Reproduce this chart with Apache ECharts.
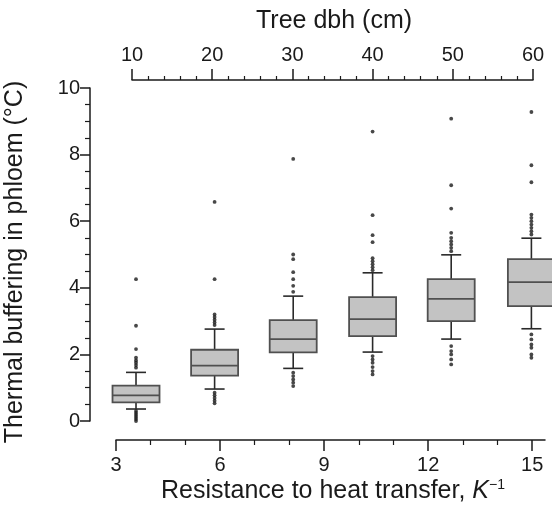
<!DOCTYPE html>
<html>
<head>
<meta charset="utf-8">
<script src="https://cdn.jsdelivr.net/npm/echarts@6/dist/echarts.min.js"></script>
<style>html,body{margin:0;padding:0;background:#fff}#c{width:552px;height:508px}</style>
</head>
<body>
<div id="c"></div>
<script>
// Box positions (tree dbh, cm)
const dbh = [10.5, 20.3, 30.1, 40, 49.8, 59.8];
// Box statistics (thermal buffering, °C)
const whiskerLow = [0.36, 0.96, 1.58, 2.07, 2.46, 2.77];
const q1 = [0.56, 1.36, 2.06, 2.55, 3.0, 3.45];
const median = [0.77, 1.66, 2.46, 3.06, 3.67, 4.17];
const q3 = [1.06, 2.14, 3.03, 3.72, 4.26, 4.86];
const whiskerHigh = [1.46, 2.76, 3.75, 4.45, 4.99, 5.49];
// Outliers per box
const outliers1 = [4.26, 2.86, 2.16, 1.9, 1.82, 1.75, 1.68, 1.6, 0.3, 0.24, 0.18, 0.12, 0.06, 0.0];
const outliers2 = [6.58, 4.26, 3.2, 3.12, 3.04, 2.96, 2.88, 0.85, 0.77, 0.69, 0.61, 0.53];
const outliers3 = [7.87, 5.0, 4.86, 4.47, 4.26, 4.06, 3.88, 1.45, 1.35, 1.25, 1.15, 1.05];
const outliers4 = [8.69, 6.18, 5.58, 5.37, 4.89, 4.8, 4.71, 4.62, 4.53, 1.95, 1.85, 1.75, 1.62, 1.5, 1.4];
const outliers5 = [9.08, 7.08, 6.38, 5.65, 5.5, 5.4, 5.3, 5.2, 5.1, 2.25, 2.1, 2.0, 1.85, 1.7];
const outliers6 = [9.28, 7.68, 7.17, 6.2, 6.1, 6.0, 5.9, 5.8, 5.7, 5.6, 2.6, 2.45, 2.3, 2.2, 2.0, 1.9];
// Tick values
const kMajorTicks = [3, 6, 9, 12, 15];
const kMinorTicks = [4, 5, 7, 8, 10, 11, 13, 14];

const allOutliers = [outliers1, outliers2, outliers3, outliers4, outliers5, outliers6];
const boxData = dbh.map((x, i) => [x, whiskerLow[i], q1[i], median[i], q3[i], whiskerHigh[i]]);
const outlierData = [];
allOutliers.forEach((arr, i) => arr.forEach(v => outlierData.push([dbh[i], v])));

const FONT = '"Liberation Sans", Arial, Helvetica, sans-serif';
const INK = '#1a1a1a';
const BOXW = 47, CAPW = 20;

function renderBox(params, api) {
  const x = api.value(0);
  const pLo = api.coord([x, api.value(1)]);
  const pQ1 = api.coord([x, api.value(2)]);
  const pMed = api.coord([x, api.value(3)]);
  const pQ3 = api.coord([x, api.value(4)]);
  const pHi = api.coord([x, api.value(5)]);
  const cx = pMed[0];
  const lineStyle = { stroke: '#2a2a2a', lineWidth: 1.6, fill: null };
  return {
    type: 'group',
    children: [
      { type: 'line', shape: { x1: cx, y1: pHi[1], x2: cx, y2: pQ3[1] }, style: lineStyle },
      { type: 'line', shape: { x1: cx, y1: pQ1[1], x2: cx, y2: pLo[1] }, style: lineStyle },
      { type: 'line', shape: { x1: cx - CAPW / 2, y1: pHi[1], x2: cx + CAPW / 2, y2: pHi[1] }, style: lineStyle },
      { type: 'line', shape: { x1: cx - CAPW / 2, y1: pLo[1], x2: cx + CAPW / 2, y2: pLo[1] }, style: lineStyle },
      { type: 'rect', shape: { x: cx - BOXW / 2, y: pQ3[1], width: BOXW, height: pQ1[1] - pQ3[1] },
        style: { fill: '#c3c3c3', stroke: '#505050', lineWidth: 1.8 } },
      { type: 'line', shape: { x1: cx - BOXW / 2, y1: pMed[1], x2: cx + BOXW / 2, y2: pMed[1] },
        style: { stroke: '#505050', lineWidth: 1.8 } }
    ]
  };
}

const chart = echarts.init(document.getElementById('c'), null, { renderer: 'canvas' });
chart.setOption({
  backgroundColor: '#fff',
  animation: false,
  textStyle: { fontFamily: FONT },
  grid: [
    { left: 132, right: 19, top: 88, bottom: 87 },
    { left: 116, right: 7, top: 88, bottom: 68 }
  ],
  xAxis: [
    {
      type: 'value', gridIndex: 0, position: 'top', offset: 8,
      min: 10, max: 60, interval: 10,
      axisLine: { show: true, onZero: false, lineStyle: { color: INK, width: 1.5 } },
      axisTick: { show: true, inside: false, length: 11, lineStyle: { color: INK, width: 1.5 } },
      minorTick: { show: true, splitNumber: 5, length: 4, lineStyle: { color: INK, width: 1.2 } },
      axisLabel: { color: INK, fontSize: 20, margin: 15, fontFamily: FONT },
      splitLine: { show: false }
    },
    {
      type: 'value', gridIndex: 1, position: 'bottom',
      min: 3, max: 15.37,
      axisLine: { show: true, onZero: false, lineStyle: { color: INK, width: 1.5 } },
      axisTick: { show: true, inside: false, length: 11, customValues: kMajorTicks, lineStyle: { color: INK, width: 1.5 } },
      axisLabel: { color: INK, fontSize: 20, margin: 15, customValues: kMajorTicks, fontFamily: FONT },
      splitLine: { show: false }
    },
    {
      type: 'value', gridIndex: 1, position: 'bottom',
      min: 3, max: 15.37,
      axisLine: { show: false, onZero: false },
      axisTick: { show: true, inside: false, length: 5, customValues: kMinorTicks, lineStyle: { color: INK, width: 1.2 } },
      axisLabel: { show: false },
      splitLine: { show: false }
    }
  ],
  yAxis: [
    {
      type: 'value', gridIndex: 0, position: 'left', offset: 42,
      min: 0, max: 10, interval: 2,
      axisLine: { show: true, onZero: false, lineStyle: { color: INK, width: 1.5 } },
      axisTick: { show: true, inside: false, length: 10, lineStyle: { color: INK, width: 1.5 } },
      minorTick: { show: true, splitNumber: 4, length: 5, lineStyle: { color: INK, width: 1.2 } },
      axisLabel: { color: INK, fontSize: 20, margin: 10, fontFamily: FONT },
      splitLine: { show: false }
    },
    { type: 'value', gridIndex: 1, show: false, min: 0, max: 1 }
  ],
  series: [
    {
      type: 'custom', xAxisIndex: 0, yAxisIndex: 0,
      renderItem: renderBox,
      encode: { x: 0, y: [1, 2, 3, 4, 5] },
      data: boxData, z: 2
    },
    {
      type: 'scatter', xAxisIndex: 0, yAxisIndex: 0,
      symbol: 'circle', symbolSize: 3.8,
      itemStyle: { color: '#1a1a1a' },
      data: outlierData, z: 3
    }
  ],
  graphic: [
    {
      type: 'text', x: 334, y: 21,
      style: { text: 'Tree dbh (cm)', font: '25px ' + FONT, fill: INK, align: 'center', verticalAlign: 'middle' }
    },
    {
      type: 'text', x: 15, y: 262, rotation: Math.PI / 2,
      style: { text: 'Thermal buffering in phloem (°C)', font: '25px ' + FONT, fill: INK, align: 'center', verticalAlign: 'middle' }
    },
    {
      type: 'text', x: 333, y: 491,
      style: {
        text: '{n|Resistance to heat transfer, }{k|K}{s|−1}',
        align: 'center', verticalAlign: 'middle',
        rich: {
          n: { fontSize: 25, fontFamily: FONT, fill: INK, color: INK },
          k: { fontSize: 25, fontFamily: FONT, fontStyle: 'italic', fill: INK, color: INK },
          s: { fontSize: 14, fontFamily: FONT, fill: INK, color: INK, verticalAlign: 'top' }
        }
      }
    }
  ]
});
</script>
</body>
</html>
